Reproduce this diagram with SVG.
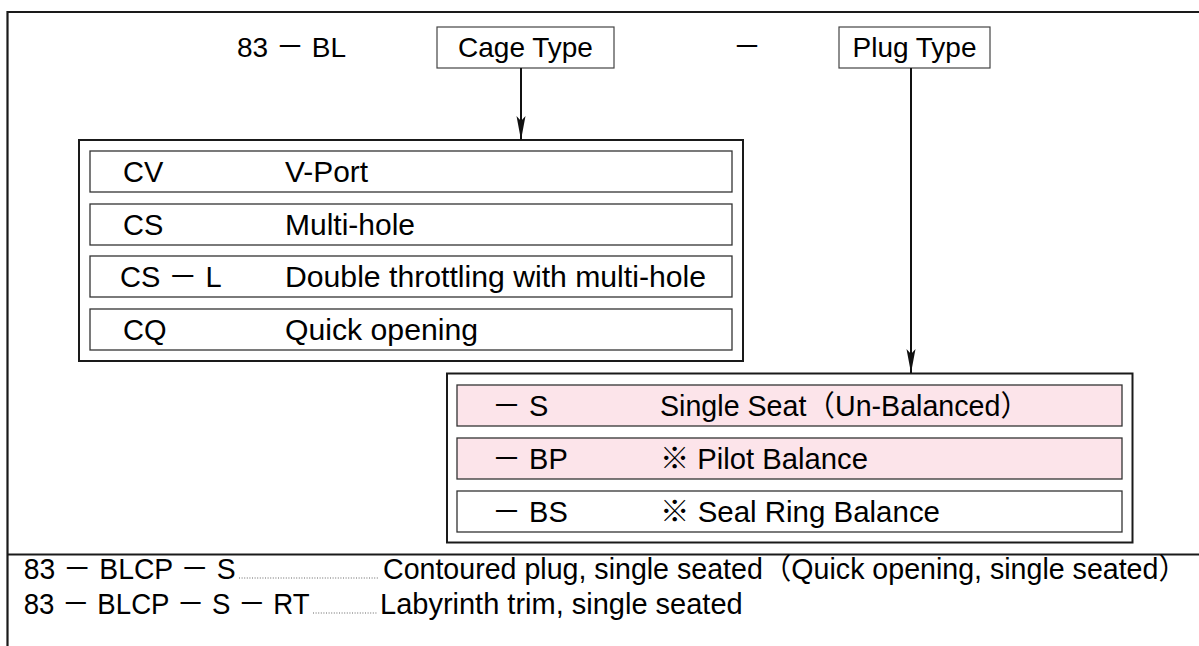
<svg xmlns="http://www.w3.org/2000/svg" width="1199" height="646" viewBox="0 0 1199 646">
<style>
text{font-family:"Liberation Sans","Noto Sans CJK JP",Arial,sans-serif;font-size:28px;fill:#000}
.t{font-size:29px}
.frame{stroke:#1a1a1a;stroke-width:2.2;fill:none}
.outer{fill:#fff;stroke:#1a1a1a;stroke-width:2}
.row{fill:#fff;stroke:#333;stroke-width:1.3}
.pink{fill:#fce4ea}
.lbl{fill:#fff;stroke:#444;stroke-width:1.2}
.conn{stroke:#111;stroke-width:2;fill:none}
.lead{stroke:#666;stroke-width:1.1;stroke-dasharray:1 1.6;fill:none}
</style>
<defs>
<marker id="arr" markerUnits="userSpaceOnUse" markerWidth="24" markerHeight="10" refX="24" refY="5" orient="auto">
<path d="M0,0.5 L24,5 L0,9.5 L5,5 z" fill="#111"/>
</marker>
</defs>
<rect x="0" y="0" width="1199" height="646" fill="#fff"/>
<g id="frame">
<path class="frame" d="M7.5,646 V12 H1199"/>
<path class="frame" d="M7.5,554.5 H1199"/>
</g>
<g id="header">
<text x="237" y="57">83 － BL</text>
<text x="747" y="57" text-anchor="middle">－</text>
</g>
<g id="cage-type">
<rect class="lbl" x="437" y="27" width="177" height="41"/>
<text x="525.5" y="57" text-anchor="middle">Cage Type</text>
</g>
<g id="plug-type">
<rect class="lbl" x="839" y="27" width="151" height="41"/>
<text x="914.5" y="57" text-anchor="middle">Plug Type</text>
</g>
<g id="cage-table">
<rect class="outer" x="79" y="140" width="664" height="221"/>
<rect class="row" x="90" y="151" width="642" height="41"/>
<rect class="row" x="90" y="204" width="642" height="41"/>
<rect class="row" x="90" y="256" width="642" height="41"/>
<rect class="row" x="90" y="309" width="642" height="41"/>
<text class="t" x="123" y="182">CV</text>
<text class="t" x="285" y="182" textLength="83" lengthAdjust="spacingAndGlyphs">V-Port</text>
<text class="t" x="123" y="235">CS</text>
<text class="t" x="285" y="235" textLength="130" lengthAdjust="spacingAndGlyphs">Multi-hole</text>
<text class="t" x="120" y="287">CS － L</text>
<text class="t" x="285" y="287" textLength="421" lengthAdjust="spacingAndGlyphs">Double throttling with multi-hole</text>
<text class="t" x="123" y="340">CQ</text>
<text class="t" x="285" y="340" textLength="193" lengthAdjust="spacingAndGlyphs">Quick opening</text>
</g>
<g id="plug-table">
<rect class="outer" x="447" y="373.5" width="685.5" height="169"/>
<rect class="row pink" x="457" y="385" width="665" height="41"/>
<rect class="row pink" x="457" y="438" width="665" height="41"/>
<rect class="row" x="457" y="491" width="665" height="41"/>
<text class="t" x="492" y="416">－ S</text>
<text class="t" x="660" y="416" textLength="369" lengthAdjust="spacingAndGlyphs">Single Seat（Un-Balanced）</text>
<text class="t" x="492" y="469">－ BP</text>
<text class="t" x="660" y="469" textLength="208" lengthAdjust="spacingAndGlyphs">※ Pilot Balance</text>
<text class="t" x="492" y="522">－ BS</text>
<text class="t" x="660" y="522" textLength="280" lengthAdjust="spacingAndGlyphs">※ Seal Ring Balance</text>
</g>
<g id="notes">
<text class="t" x="23.7" y="579" textLength="212" lengthAdjust="spacingAndGlyphs">83 － BLCP － S</text>
<path class="lead" d="M239,578 H379"/>
<text class="t" x="383" y="579" textLength="804" lengthAdjust="spacingAndGlyphs">Contoured plug, single seated（Quick opening, single seated）</text>
<text class="t" x="23.7" y="614" textLength="286" lengthAdjust="spacingAndGlyphs">83 － BLCP － S － RT</text>
<path class="lead" d="M313,613 H377"/>
<text class="t" x="380" y="614">Labyrinth trim, single seated</text>
</g>
<g id="connectors">
<path class="conn" d="M521,68 V140" marker-end="url(#arr)"/>
<path class="conn" d="M911,68 V373" marker-end="url(#arr)"/>
</g>
</svg>
